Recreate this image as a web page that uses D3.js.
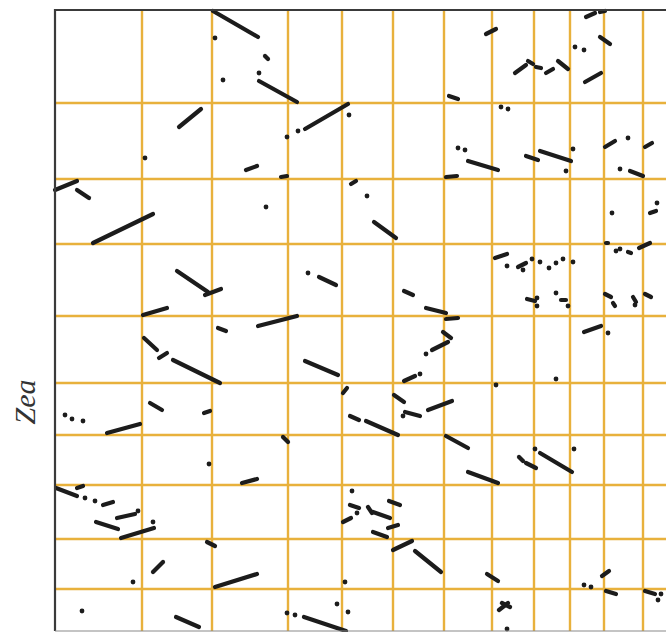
<!DOCTYPE html>
<html>
<head>
<meta charset="utf-8">
<script src="https://cdn.jsdelivr.net/npm/d3@7/dist/d3.min.js"></script>
<style>
  html, body { margin: 0; padding: 0; background: #fff; }
  svg { display: block; }
</style>
</head>
<body>
<script>
// Genome positions (plot units) of chromosome boundaries on each axis
const xBreaks = [87, 157, 233, 287, 338, 389, 437, 479, 515, 549, 588];
const yBreaks = [93, 169, 234, 306, 373, 425, 475, 529, 579];

// Syntenic runs: [x1, y1, x2, y2]
const runs = [
  [158,1,203,27],[210,46,213,49],[204,71,242,92],[124,117,146,99],[250,119,293,94],
  [191,160,202,156],[226,167,232,166],[0,180,22,171],[22,180,34,188],[38,233,98,204],
  [531,7,540,3],[545,2,550,1],[431,24,441,19],[545,27,555,34],[460,63,471,55],
  [473,51,478,54],[481,57,486,58],[491,63,498,59],[503,51,513,59],[530,72,546,63],
  [394,86,403,89],[413,151,443,160],[471,146,483,150],[485,141,516,151],[550,137,560,131],
  [590,137,597,133],[575,161,588,166],[391,167,402,166],[296,174,301,171],[595,203,601,201],
  [319,212,341,228],[122,261,153,282],[150,285,166,279],[88,305,112,298],[163,318,171,321],
  [203,316,242,306],[264,267,281,275],[89,328,102,340],[104,348,112,343],[118,350,165,373],
  [250,351,283,365],[95,393,107,400],[149,403,155,401],[52,423,85,414],[440,248,452,244],
  [463,257,471,253],[551,233,553,233],[573,242,576,243],[584,238,595,233],[349,281,358,285],
  [371,298,391,303],[391,309,403,308],[472,289,480,291],[506,290,511,290],[550,284,556,287],
  [558,293,560,296],[578,287,581,292],[590,284,596,287],[529,322,546,316],[388,322,396,328],
  [393,332,377,340],[349,371,360,366],[288,383,292,378],[339,385,349,392],[350,402,365,406],
  [373,400,397,391],[295,406,304,410],[311,411,343,425],[228,427,233,432],[187,473,202,469],
  [22,478,28,476],[1,478,22,486],[48,495,58,492],[62,508,80,504],[41,512,63,519],
  [66,528,99,518],[152,532,160,536],[98,562,108,552],[160,577,202,564],[121,607,144,617],
  [249,607,291,621],[391,426,413,438],[413,462,443,473],[464,447,468,451],[471,453,481,458],
  [485,443,517,462],[295,495,304,498],[313,497,317,503],[318,502,335,508],[334,491,345,495],
  [333,518,343,515],[288,512,296,508],[318,522,332,527],[338,540,357,531],[360,541,386,562],
  [432,564,443,571],[547,566,554,561],[551,581,561,584],[590,581,600,584],[444,600,453,593],
  [447,593,455,597]
];

// Isolated hits: [x, y]
const hits = [
  [160,28],[204,63],[168,70],[232,127],[243,121],[294,105],[90,148],[211,197],
  [520,37],[529,40],[446,97],[453,99],[403,138],[410,140],[518,139],[511,161],
  [573,128],[565,159],[312,186],[557,203],[602,193],[253,263],[10,405],[17,409],
  [28,411],[452,256],[468,260],[477,249],[485,252],[494,258],[501,253],[508,249],
  [518,252],[561,241],[565,239],[482,288],[482,296],[501,283],[513,296],[580,295],
  [553,323],[371,344],[365,364],[441,375],[501,369],[348,406],[154,454],[30,488],
  [40,491],[83,501],[98,512],[78,572],[27,601],[232,603],[240,605],[480,439],
  [519,439],[297,481],[302,503],[290,572],[529,575],[536,577],[606,584],[603,590],
  [282,594],[293,602],[452,619]
];

const yLabel = "Zea";

const W = 666, H = 632;
const svg = d3.select("body").append("svg").attr("width", W).attr("height", H);

const plotLeft = 55, plotTop = 10, plotBottom = 631;
const x = d3.scaleLinear().domain([0, 611]).range([plotLeft, 666]);
const y = d3.scaleLinear().domain([0, 621]).range([plotTop, plotBottom]);

const gridColor = "#e8b13c";
const grid = svg.append("g");
grid.selectAll("line.v").data(xBreaks).join("line")
  .attr("class", "v")
  .attr("x1", d => x(d)).attr("x2", d => x(d))
  .attr("y1", plotTop).attr("y2", plotBottom)
  .attr("stroke", gridColor).attr("stroke-width", 2.4);
grid.selectAll("line.h").data(yBreaks).join("line")
  .attr("class", "h")
  .attr("y1", d => y(d)).attr("y2", d => y(d))
  .attr("x1", plotLeft).attr("x2", W)
  .attr("stroke", gridColor).attr("stroke-width", 2.4);

const ink = "#1c1c1c";
svg.append("g").selectAll("line").data(runs).join("line")
  .attr("x1", d => x(d[0])).attr("y1", d => y(d[1]))
  .attr("x2", d => x(d[2])).attr("y2", d => y(d[3]))
  .attr("stroke", ink).attr("stroke-width", 4.2).attr("stroke-linecap", "round");

svg.append("g").selectAll("circle").data(hits).join("circle")
  .attr("cx", d => x(d[0])).attr("cy", d => y(d[1]))
  .attr("r", 2.4).attr("fill", ink);

// Frame
svg.append("line").attr("x1", plotLeft).attr("x2", W).attr("y1", plotTop).attr("y2", plotTop)
  .attr("stroke", "#3a3a3a").attr("stroke-width", 2.2);
svg.append("line").attr("x1", plotLeft).attr("x2", plotLeft).attr("y1", plotTop - 1).attr("y2", plotBottom)
  .attr("stroke", "#3a3a3a").attr("stroke-width", 2.2);
svg.append("line").attr("x1", plotLeft).attr("x2", W).attr("y1", plotBottom).attr("y2", plotBottom)
  .attr("stroke", "#8a8a8a").attr("stroke-width", 1.2);

svg.append("text")
  .attr("transform", "translate(35,402) rotate(-90)")
  .attr("text-anchor", "middle")
  .attr("font-family", "'Liberation Serif', 'DejaVu Serif', serif")
  .attr("font-style", "italic")
  .attr("font-size", 30)
  .attr("fill", "#333")
  .text(yLabel);
</script>
</body>
</html>
